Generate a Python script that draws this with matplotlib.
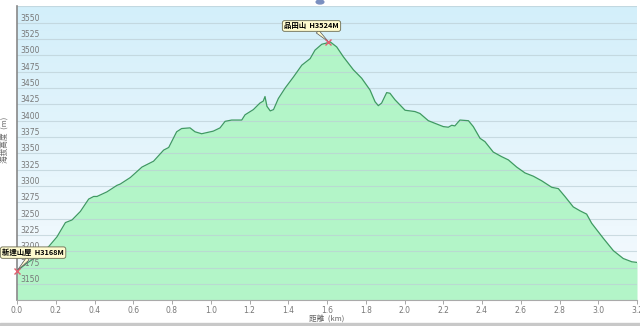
import numpy as np
import matplotlib
matplotlib.use("Agg")
import matplotlib.pyplot as plt
from matplotlib.colors import LinearSegmentedColormap
from matplotlib.patches import Rectangle
import matplotlib.transforms as mtransforms

plt.rcParams['font.family'] = ['Noto Sans CJK TC', 'DejaVu Sans']

# distance (km) and elevation (m)
dist = [0.0, 0.052, 0.103, 0.163, 0.206, 0.25, 0.284, 0.327, 0.37, 0.396, 0.413,
        0.464, 0.516, 0.533, 0.585, 0.645, 0.705, 0.757, 0.783, 0.824, 0.85,
        0.893, 0.919, 0.953, 1.013, 1.048, 1.074, 1.108, 1.16, 1.177, 1.22,
        1.254, 1.271, 1.28, 1.29, 1.307, 1.324, 1.349, 1.384, 1.427, 1.47,
        1.513, 1.538, 1.573, 1.599, 1.607, 1.615, 1.65, 1.684, 1.71, 1.736,
        1.779, 1.822, 1.848, 1.865, 1.882, 1.908, 1.925, 1.951, 1.977, 2.003,
        2.054, 2.08, 2.123, 2.157, 2.2, 2.226, 2.244, 2.26, 2.286, 2.33,
        2.355, 2.39, 2.415, 2.458, 2.501, 2.536, 2.579, 2.622, 2.665, 2.708,
        2.76, 2.794, 2.828, 2.871, 2.906, 2.94, 2.966, 3.026, 3.078, 3.129,
        3.173, 3.2]
elev = [3170, 3182, 3192, 3207, 3222, 3244, 3248, 3261, 3280, 3284, 3284,
        3291, 3301, 3303, 3313, 3329, 3338, 3355, 3359, 3383, 3388,
        3389, 3383, 3380, 3384, 3389, 3399, 3401, 3401, 3409, 3417,
        3427, 3430, 3437, 3422, 3415, 3417, 3434, 3450, 3467, 3485,
        3495, 3508, 3517, 3519, 3521, 3521, 3513, 3498, 3488, 3478,
        3465, 3447, 3429, 3423, 3427, 3443, 3442, 3432, 3424, 3416,
        3414, 3411, 3400, 3396, 3391, 3390, 3393, 3392, 3401, 3400,
        3391, 3373, 3368, 3352, 3345, 3340, 3329, 3320, 3315, 3308,
        3298, 3296, 3284, 3268, 3262, 3257, 3243, 3220, 3201, 3189,
        3184, 3183]

x_ticks = [0.0, 0.2, 0.4, 0.6, 0.8, 1.0, 1.2, 1.4, 1.6, 1.8, 2.0, 2.2, 2.4,
           2.6, 2.8, 3.0, 3.2]
y_grid = [3125, 3150, 3175, 3200, 3225, 3250, 3275, 3300, 3325, 3350, 3375,
          3400, 3425, 3450, 3475, 3500, 3525, 3550, 3575]
y_labels = [3150, 3175, 3200, 3225, 3250, 3275, 3300, 3325, 3350, 3375, 3400,
            3425, 3450, 3475, 3500, 3525, 3550]

peak_label = "品田山  H3524M"
peak_point = (1.607, 3521)
start_label = "新達山屋  H3168M"
start_point = (0.0, 3170)

fig = plt.figure(figsize=(6.4, 3.26), dpi=100)
ax = fig.add_axes([17 / 640, 1 - 300.3 / 326, 620 / 640, 293.9 / 326])
xmin, xmax, ymin, ymax = 0, 3.2, 3125, 3575

# gradient background
cmap = LinearSegmentedColormap.from_list("bg", ["#f7fbfe", "#d3effa"])
grad = np.linspace(0, 1, 256)[:, None]
ax.imshow(grad, extent=[xmin, xmax, ymin, ymax], aspect='auto', cmap=cmap,
          origin='lower', zorder=0)

ax.fill_between(dist, elev, ymin, color="#b3f5c8", zorder=1, lw=0)
for g in y_grid:
    ax.axhline(g, color="#bccfd6", lw=0.8, alpha=0.7, zorder=2)
ax.plot(dist, elev, color="#3f9a62", lw=0.9, zorder=3)

ax.set_xlim(xmin, xmax)
ax.set_ylim(ymin, ymax)

# y labels inside plot, just above the grid line
trans = mtransforms.blended_transform_factory(ax.transAxes, ax.transData)
for v in y_labels:
    ax.text(0.005, v, str(v), transform=trans, fontsize=5.5, color="#777777",
            ha='left', va='bottom', zorder=4,
            family=['DejaVu Sans'])
ax.set_yticks([])

ax.set_xticks(x_ticks)
ax.set_xticklabels([f"{t:.1f}" for t in x_ticks], fontsize=5.5, color="#777777",
                   family=['DejaVu Sans'])
ax.tick_params(axis='x', length=3, width=0.6, color="#999999", pad=1)

for s in ['top', 'right']:
    ax.spines[s].set_visible(False)
ax.spines['left'].set_color("#888888")
ax.spines['left'].set_linewidth(1.2)
ax.spines['bottom'].set_color("#aaaaaa")
ax.spines['bottom'].set_linewidth(0.8)

ax.set_xlabel("距離  (km)", fontsize=5.5, color="#666666", labelpad=0)
fig.text(6 / 640, 1 - 140 / 326, "海拔高度  (m)", rotation=90, fontsize=5.5,
         color="#666666", ha='center', va='center')

box = dict(boxstyle="round,pad=0.25,rounding_size=0.3", fc="#fffbcf",
           ec="#6a6a50", lw=0.6)
arrow = dict(arrowstyle="wedge,tail_width=0.5", fc="#fffbcf", ec="#555555",
             lw=0.5, shrinkA=0, shrinkB=0)
ax.annotate(peak_label, xy=peak_point, xytext=(1.52, 3545), fontsize=5.3,
            fontweight='bold', ha='center', va='center', bbox=box,
            arrowprops=arrow, zorder=6)
ax.annotate(start_label, xy=start_point, xytext=(0.083, 3198), fontsize=5.3,
            fontweight='bold', ha='center', va='center', bbox=box,
            arrowprops=arrow, zorder=6, annotation_clip=False)
ax.plot([peak_point[0]], [peak_point[1]], marker='x', color="#e06070",
        ms=4, mew=1.0, zorder=7)
ax.plot([start_point[0]], [start_point[1]], marker='x', color="#e06070",
        ms=4, mew=1.0, zorder=7, clip_on=False)

# grey strip at the bottom of the image and small button at the top
fig.patches.append(Rectangle((0, 0), 1, 3 / 326, transform=fig.transFigure,
                             color="#c8c8c8", zorder=0))
fig.patches.append(plt.Circle((320 / 640, 1 - 2 / 326), 0.006,
                              transform=fig.transFigure, color="#7a8fc0"))

fig.savefig("out.png", dpi=100)
